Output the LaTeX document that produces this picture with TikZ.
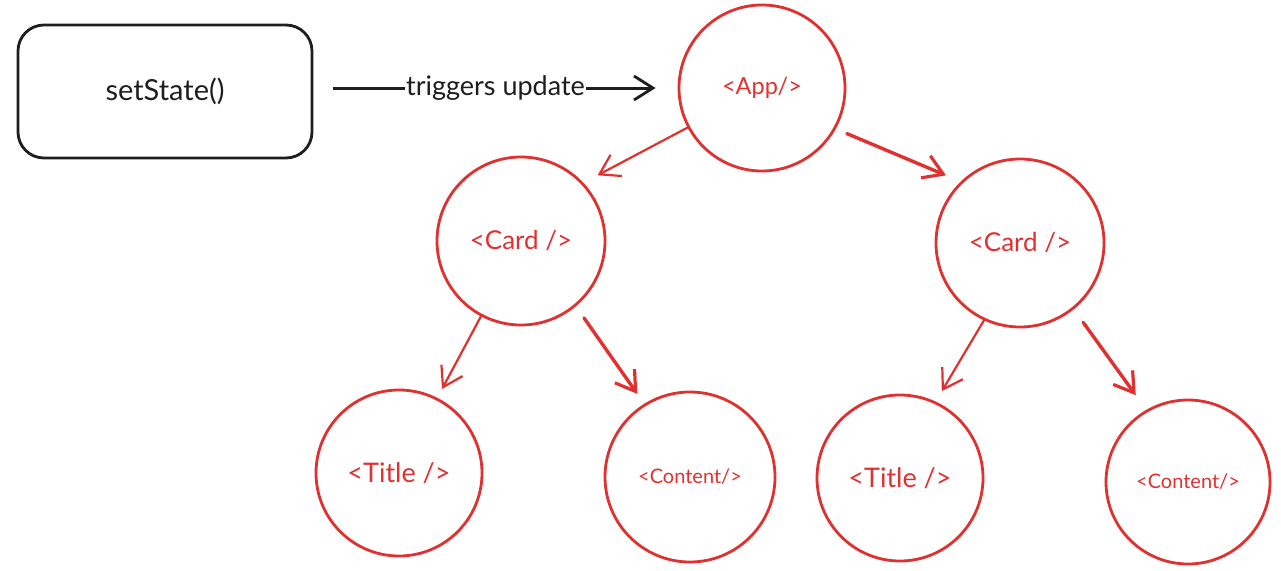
\documentclass[tikz,border=0pt]{standalone}
\usepackage{fontspec}
\setmainfont{Lato}
\usetikzlibrary{arrows.meta}
\definecolor{exred}{HTML}{E03131}
\definecolor{exblack}{HTML}{1E1E1E}
\tikzset{
  comp/.style={circle, draw=exred, line width=2.8pt, text=exred, inner sep=0pt},
  edge/.style={draw=exred, line width=2.2pt, -{Straight Barb[length=19pt,width=24pt,line width=2.2pt]}, line cap=round},
  thick edge/.style={draw=exred, line width=3.4pt, -{Straight Barb[length=19pt,width=24pt,line width=3.2pt]}, line cap=round},
}
\begin{document}
\begin{tikzpicture}[x=1pt,y=-1pt]
\useasboundingbox (0,0) rectangle (1281,570);
\node[draw=exblack, line width=2.8pt, rounded corners=26pt, minimum width=294pt, minimum height=133pt, text=exblack, font=\fontsize{29}{32}\selectfont] (box) at (165,91.5) {setState()};

\node[comp, minimum size=166pt, font=\fontsize{23.5}{26}\selectfont] (app) at (762,88) {<App/>};
\node[comp, minimum size=168pt, font=\fontsize{26}{30}\selectfont] (cardL) at (521,241) {<Card />};
\node[comp, minimum size=168pt, font=\fontsize{26}{30}\selectfont] (cardR) at (1020,243) {<Card />};
\node[comp, minimum size=166pt, font=\fontsize{27}{30}\selectfont] (titleL) at (399,473) {<Title />};
\node[comp, minimum size=170pt, font=\fontsize{20}{24}\selectfont] (contentL) at (690,477) {<Content/>};
\node[comp, minimum size=166pt, font=\fontsize{27}{30}\selectfont] (titleR) at (900,478) {<Title />};
\node[comp, minimum size=164pt, font=\fontsize{20}{24}\selectfont] (contentR) at (1188,482) {<Content/>};

\draw[draw=exblack, line width=3pt, shorten <=20pt, shorten >=22pt,
  -{Straight Barb[length=19pt,width=24pt,line width=2.8pt]}]
  (box.east |- app.center) -- (app.west)
  node[midway, fill=white, text=exblack, inner xsep=1pt, font=\fontsize{27}{30}\selectfont] (lbl) {triggers update};

\draw[edge, shorten >=16pt] (app.208) -- (cardL.43);
\draw[thick edge, shorten <=12pt, shorten >=16pt] (app.331) -- (cardR.134);
\draw[edge, shorten >=10pt] (cardL.242) -- (titleL.63);
\draw[thick edge, shorten <=14pt, shorten >=12pt] (cardL.310) -- (contentL.122);
\draw[edge, shorten >=12pt] (cardR.245) -- (titleR.65);
\draw[thick edge, shorten <=16pt, shorten >=18pt] (cardR.309) -- (contentR.120);
\end{tikzpicture}
\end{document}
